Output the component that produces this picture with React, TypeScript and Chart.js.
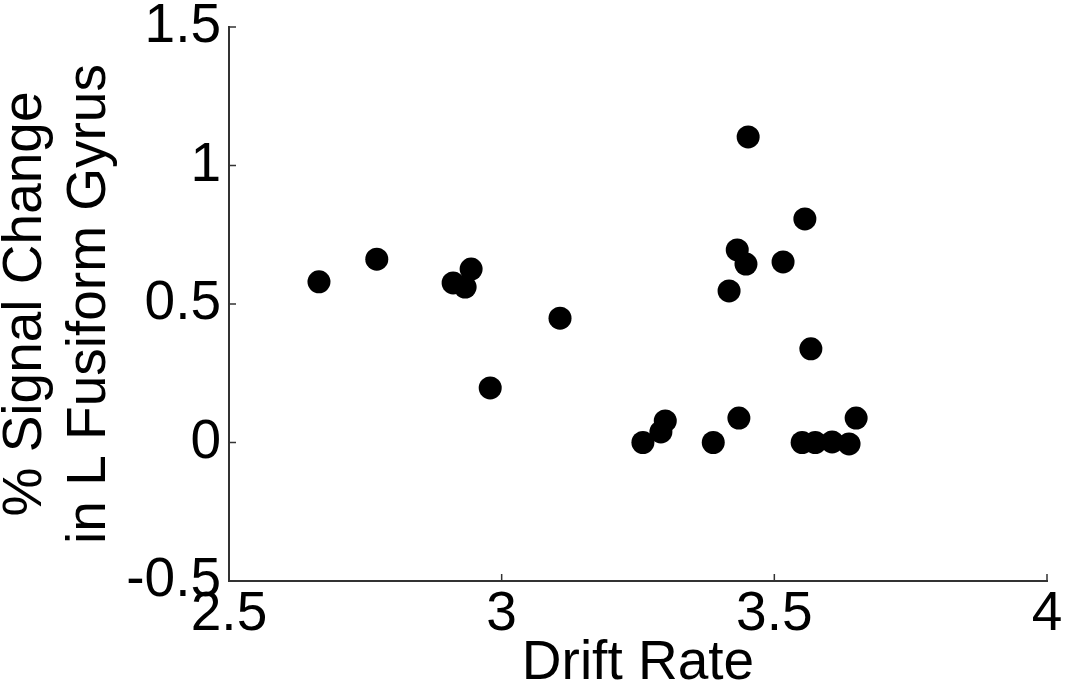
import React, { useEffect, useRef } from "react";
import { Chart, registerables } from "chart.js";

Chart.register(...registerables);

// Drift rate (x) and % signal change in L fusiform gyrus (y)
const driftRate = [
  2.665, 2.771, 2.911, 2.933, 2.944, 2.979, 3.107, 3.259, 3.292, 3.3, 3.388, 3.435,
  3.432, 3.448, 3.417, 3.452, 3.516, 3.556, 3.567, 3.551, 3.575, 3.606, 3.637, 3.65,
];
const signalChange = [
  0.58, 0.662, 0.576, 0.561, 0.626, 0.197, 0.449, 0.0, 0.038, 0.078, 0.0, 0.088,
  0.695, 0.644, 0.547, 1.103, 0.652, 0.807, 0.338, 0.0, 0.0, 0.002, -0.005, 0.088,
];

const xTickValues = [2.5, 3, 3.5, 4];
const xTickLabels = ["2.5", "3", "3.5", "4"];
const yTickValues = [-0.5, 0, 0.5, 1, 1.5];
const yTickLabels = ["-0.5", "0", "0.5", "1", "1.5"];

const xTitle = "Drift Rate";
const yTitle = ["% Signal Change", "in L Fusiform Gyrus"];

const FONT = "'Liberation Sans', Arial, Helvetica, sans-serif";
const AXIS_COLOR = "#333333";

const inwardTicks = {
  id: "inwardTicks",
  afterDraw(chart: any) {
    const { ctx, chartArea, scales } = chart;
    ctx.save();
    ctx.strokeStyle = AXIS_COLOR;
    ctx.lineWidth = 1.5;
    ctx.beginPath();
    for (const v of xTickValues) {
      const px = scales.x.getPixelForValue(v);
      ctx.moveTo(px, chartArea.bottom);
      ctx.lineTo(px, chartArea.bottom - 7);
    }
    for (const v of yTickValues) {
      const py = scales.y.getPixelForValue(v);
      ctx.moveTo(chartArea.left, py);
      ctx.lineTo(chartArea.left + 7, py);
    }
    ctx.stroke();
    ctx.restore();
  },
};

export default function App() {
  const ref = useRef<HTMLCanvasElement | null>(null);

  useEffect(() => {
    if (!ref.current) return;
    const chart = new Chart(ref.current, {
      type: "scatter",
      data: {
        datasets: [
          {
            data: driftRate.map((x, i) => ({ x, y: signalChange[i] })),
            backgroundColor: "#000000",
            borderWidth: 0,
            pointRadius: 11.5,
            pointHoverRadius: 11.5,
          },
        ],
      },
      options: {
        responsive: false,
        animation: false,
        events: [],
        layout: { padding: { top: 27, right: 19, left: 0, bottom: 0 } },
        plugins: {
          legend: { display: false },
          tooltip: { enabled: false },
        },
        scales: {
          x: {
            type: "linear",
            min: 2.5,
            max: 4,
            grid: { display: false, drawTicks: false },
            border: { display: true, color: AXIS_COLOR, width: 2 },
            afterBuildTicks: (scale: any) => {
              scale.ticks = xTickValues.map((v) => ({ value: v }));
            },
            afterFit: (scale: any) => {
              scale.height = 114;
              scale.paddingLeft = 0;
              scale.paddingRight = 0;
            },
            ticks: {
              color: "#000000",
              font: { family: FONT, size: 55, lineHeight: 1.2 },
              padding: 1,
              maxRotation: 0,
              autoSkip: false,
              callback: (_v: any, i: number) => xTickLabels[i],
            },
            title: {
              display: true,
              text: xTitle,
              color: "#000000",
              font: { family: FONT, size: 55, lineHeight: 1.15 },
              padding: { top: 0, bottom: 0 },
            },
          },
          y: {
            type: "linear",
            min: -0.5,
            max: 1.5,
            grid: { display: false, drawTicks: false },
            border: { display: true, color: AXIS_COLOR, width: 2 },
            afterBuildTicks: (scale: any) => {
              scale.ticks = yTickValues.map((v) => ({ value: v }));
            },
            afterFit: (scale: any) => {
              scale.width = 229;
              scale.paddingTop = 0;
              scale.paddingBottom = 0;
            },
            ticks: {
              color: "#000000",
              font: { family: FONT, size: 55, lineHeight: 1.2 },
              padding: 8,
              autoSkip: false,
              callback: (_v: any, i: number) => yTickLabels[i],
            },
            title: {
              display: true,
              text: yTitle,
              color: "#000000",
              font: { family: FONT, size: 55, lineHeight: 1.15 },
              padding: { top: -5.5, bottom: 0 },
            },
          },
        },
      },
      plugins: [inwardTicks],
    });
    return () => chart.destroy();
  }, []);

  return (
    <div style={{ position: "absolute", left: 0, top: 0, width: 1066, height: 695, background: "#ffffff" }}>
      <canvas ref={ref} width={1066} height={695} style={{ display: "block" }} />
    </div>
  );
}
